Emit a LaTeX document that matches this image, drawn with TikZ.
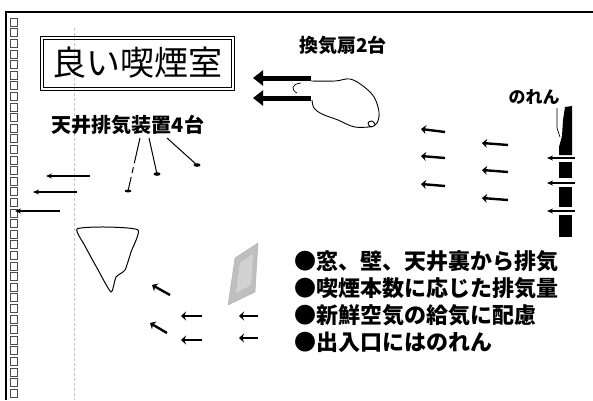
\documentclass[tikz,border=0pt]{standalone}
\usepackage{fontspec}
\setmainfont{Noto Sans CJK JP}
\usetikzlibrary{arrows.meta, positioning}

\begin{document}
\begin{tikzpicture}[
  x=1pt, y=-1pt,
  etichetta/.style={font=\fontsize{19}{19}\selectfont\bfseries, inner sep=0pt},
  contorno/.style={draw=black, line width=0.9pt, line join=round},
  frecciagrossa/.style={line width=5pt, -{Triangle[length=10pt, width=15pt]}},
  frecciasottile/.style={line width=1.1pt, -{Stealth[length=6pt, width=5pt]}},
  frecciacorta/.style={line width=2.4pt, -{Stealth[length=5pt, width=9pt]}},
  richiamo/.style={draw=black, line width=1pt}
]

% area utile della pagina
\useasboundingbox (0,0) rectangle (593,400);

% ---- cornice: bordo superiore, bordo sinistro e parete a quadretti ----
\draw[line width=1.8pt] (6,400) -- (6,12) -- (593,12);
\foreach \y in {18,28.6,...,392}
  \draw[line width=0.5pt, black!70] (10,\y) rectangle (17,\y+8);
\draw[gray!45, densely dashed, line width=0.5pt] (74,28) -- (74,400);

% ---- titolo in doppia cornice --------------------------------------
\draw[line width=0.8pt] (40,36) rectangle (234,90);
\draw[line width=0.8pt] (43,39) rectangle (231,87);
\node[font=\fontsize{34}{34}\selectfont, inner sep=0pt] (titolo) at (137,63) {良い喫煙室};

% ---- ventilatori a parete ------------------------------------------
\node[etichetta] (ventole) at (343,45) {換気扇2台};
\coordinate (ventola1) at (311,78);
\coordinate (ventola2) at (311,98);
\draw[frecciagrossa] (ventola1) -- (253,78);
\draw[frecciagrossa] (ventola2) -- (253,98);
\draw[contorno] plot[smooth, tension=0.6] coordinates {(311,81) (335,81) (350,79)
  (363,86) (374,97) (379,112) (377,123) (371,127) (368,123) (372,121) (374,126)
  (355,127) (338,120) (322,114) (314,108) (312,100)};
\draw[contorno, line width=0.7pt] (301,83) .. controls (291,84) and (291,90) .. (297,93);

% ---- cappe a soffitto ----------------------------------------------
\node[etichetta, font=\fontsize{20}{20}\selectfont\bfseries] (soffitto) at (128,125) {天井排気装置4台};
\coordinate (cappa1) at (128,191);
\coordinate (cappa2) at (157,174);
\coordinate (cappa3) at (197,165);
\draw[richiamo, dash pattern=on 26pt off 4pt on 6pt off 4pt on 30pt]
  ([xshift=12pt, yshift=-3pt]soffitto.south) -- (cappa1);
\draw[richiamo] ([xshift=21pt, yshift=-3pt]soffitto.south) -- (cappa2);
\draw[richiamo] ([xshift=39pt, yshift=-3pt]soffitto.south) -- (cappa3);
\fill (cappa1) ellipse (3.5 and 1.4);
\fill (cappa2) ellipse (3.5 and 1.8);
\fill (cappa3) ellipse (3.5 and 1.8);

% uscite verso la parete sinistra
\draw[frecciasottile] (90,176) -- (46,176);
\draw[frecciasottile] (77,192) -- (33,192);
\draw[frecciasottile] (60,211) -- (15,211);

% ---- nuvola di fumo e pannello -------------------------------------
\draw[contorno, line width=1pt] plot[smooth cycle, tension=0.35] coordinates {(77,229)
  (105,227) (138,230) (131,252) (125,270) (116,277) (111,292) (97,268) (85,246)};
\fill[gray!50, draw=gray!65] (235,258) -- (258,243) -- (255,292) -- (228,305) -- cycle;
\fill[gray!35] (240,263) -- (253,254) -- (251,285) -- (236,293) -- cycle;

% flusso d'aria verso le cappe
\draw[frecciacorta] (170,295) -- (152,285);
\draw[frecciacorta] (167,333) -- (150,323);
\draw[frecciacorta] (202,316) -- (181,316);
\draw[frecciacorta] (202,340) -- (181,340);
\draw[frecciacorta] (258,316) -- (239,316);
\draw[frecciacorta] (258,338) -- (239,338);

% ---- aria fresca dall'ingresso -------------------------------------
\draw[frecciacorta] (445,132) -- (421,129);
\draw[frecciacorta] (445,158) -- (421,156);
\draw[frecciacorta] (445,186) -- (421,184);
\draw[frecciacorta] (508,145) -- (482,143);
\draw[frecciacorta] (508,172) -- (482,170);
\draw[frecciacorta] (508,200) -- (482,198);

% noren sulla porta
\node[etichetta, font=\fontsize{17}{17}\selectfont\bfseries] (noren) at (534,97) {のれん};
\draw[line width=0.7pt] (557,108) -- (557,128) -- (560,137);
\fill (565,107) -- (572,106) -- (572,155) -- (559,155) -- (559,147)
  -- (562,136) -- (563,120) -- cycle;
\fill (559,162) rectangle (572,178);
\fill (559,187) rectangle (572,207);
\fill (559,215) rectangle (572,237);
\draw[frecciasottile] (575,158) -- (547,158);
\draw[frecciasottile] (575,183) -- (547,183);
\draw[frecciasottile] (575,211) -- (547,211);

% ---- punti chiave --------------------------------------------------
\node[font=\fontsize{22}{27}\selectfont\bfseries, align=left, anchor=west, inner sep=0pt]
  (punti) at (294,302) {●窓、壁、天井裏から排気\\●喫煙本数に応じた排気量\\●新鮮空気の給気に配慮\\●出入口にはのれん};

\end{tikzpicture}
\end{document}
